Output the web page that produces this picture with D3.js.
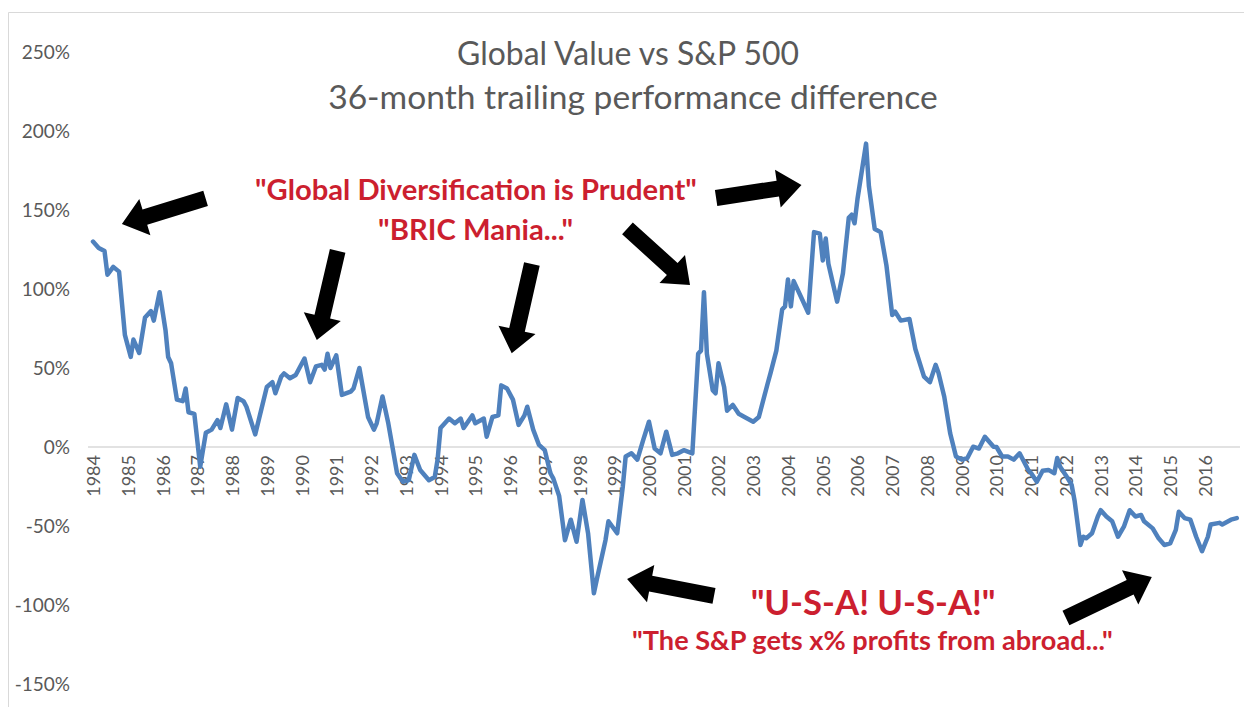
<!DOCTYPE html>
<html>
<head>
<meta charset="utf-8">
<script src="https://cdn.jsdelivr.net/npm/d3@7"></script>
<style>
  html, body { margin: 0; padding: 0; background: #fff; }
  svg { display: block; }
</style>
</head>
<body>
<script>
// ---------------- DATA ----------------
const titleLines = ["Global Value vs S&P 500", "36-month trailing performance difference"];
const yTicks = [-150, -100, -50, 0, 50, 100, 150, 200, 250];
const xTickYears = d3.range(1984, 2017);

const dates = [
  "1984-01","1984-03","1984-05","1984-06","1984-08","1984-10","1984-12",
  "1985-02","1985-03","1985-05","1985-07","1985-09","1985-10","1985-12",
  "1986-02","1986-03","1986-04","1986-06","1986-08","1986-09","1986-10","1986-12",
  "1987-02","1987-04","1987-06","1987-08","1987-09","1987-11",
  "1988-01","1988-03","1988-05","1988-06","1988-09",
  "1989-01","1989-03","1989-04","1989-06","1989-07","1989-09","1989-11",
  "1990-02","1990-04","1990-06","1990-08","1990-09","1990-10","1990-11",
  "1991-01","1991-03","1991-06","1991-07","1991-09","1991-12",
  "1992-02","1992-03","1992-05","1992-07","1992-10","1992-12",
  "1993-02","1993-04","1993-06","1993-09","1993-11","1993-12",
  "1994-01","1994-04","1994-06","1994-08","1994-09","1994-12",
  "1995-01","1995-04","1995-05","1995-07","1995-09","1995-10","1995-12",
  "1996-02","1996-04","1996-06","1996-07","1996-09","1996-11",
  "1997-01","1997-03","1997-04","1997-06","1997-08","1997-10","1997-12",
  "1998-02","1998-04","1998-06","1998-07","1998-10","1998-11",
  "1999-02","1999-04","1999-05","1999-07","1999-09","1999-11",
  "2000-01","2000-03","2000-05","2000-07","2000-09","2000-11",
  "2001-01","2001-04","2001-06","2001-07","2001-08","2001-09","2001-11","2001-12",
  "2002-01","2002-03","2002-04","2002-06","2002-08","2002-10",
  "2003-01","2003-03","2003-06","2003-07","2003-09","2003-11","2003-12",
  "2004-01","2004-02","2004-03","2004-06","2004-08","2004-10","2004-12",
  "2005-01","2005-02","2005-03","2005-06","2005-08","2005-10","2005-11","2005-12",
  "2006-01","2006-04","2006-05","2006-07","2006-09","2006-11",
  "2007-01","2007-02","2007-04","2007-07","2007-09","2007-12",
  "2008-02","2008-04","2008-05","2008-07","2008-09","2008-11",
  "2009-01","2009-03","2009-05","2009-07","2009-09","2009-12",
  "2010-01","2010-03","2010-05","2010-07","2010-09","2010-12",
  "2011-01","2011-03","2011-05","2011-07","2011-09","2011-10","2011-11",
  "2012-01","2012-03","2012-04","2012-06","2012-07","2012-08","2012-10","2012-12",
  "2013-01","2013-03","2013-05","2013-07","2013-09","2013-11",
  "2014-01","2014-03","2014-04","2014-07","2014-09","2014-11",
  "2015-01","2015-03","2015-04","2015-06","2015-08","2015-10","2015-12",
  "2016-02","2016-03","2016-06","2016-07","2016-10","2016-12"
];

const values = [
  130,126,124,109,114,111,71,
  57,68,59.5,82,86,80,98,
  74,57,53,30,29,37,22,21,
  -12.5,9,11,17,12,27,
  11,31,29,25.5,8,
  38,41,34,44.5,46.6,43.5,45.6,
  56,41,51,52,49,59,50,
  58,33,35,37,50,19,
  11,15,32,15,-16.6,-22,
  -21,-5,-14.6,-21,-19,-8,
  12,18,15,18,12,20,
  15,18,6.5,19,20,39,37,
  30,14,20,25.5,11,1.3,
  -2,-16.6,-20,-31,-59,-46,-60,
  -33.5,-54.6,-92.6,-84,-59,-47,
  -54.6,-25,-6,-4,-8,4.4,
  16,-1,-4,9.7,-5,-4,
  -2,-4,59,61,98,59,36,34,
  53,38,23,26.6,21,19,
  16,19,40,46.6,61,87,89,
  106,89,105,93,85,136,135,
  118,132,116,92,110,145,147,141.6,
  157,192,165,138,136,115,
  83.5,85.6,80,81,62,44.5,
  41,52,47,31.8,8.7,-6,
  -8,-7,0.2,-1,6.5,0.2,
  0,-6,-6,-8,-4,-14.6,
  -16.6,-22,-15,-14.5,-16.6,-7,-12.5,
  -18,-24,-34,-62,-56.8,-57.8,-54.6,-44,
  -40,-44,-47,-56.8,-50.4,-40,
  -44,-43,-47,-51.5,-57.8,-62,
  -61,-52.5,-41,-45,-46,-56.8,-66,
  -56.8,-49,-48,-49,-46,-45
];

// annotation texts (anchored in data space: decimal year, value %)
const noteTexts = [
  "\"Global Diversification is Prudent\"",
  "\"BRIC Mania...\"",
  "\"U-S-A! U-S-A!\"",
  "\"The S&P gets x% profits from abroad...\""
];
const noteAnchors = [[1995.02, 156.3], [1995.01, 131], [2006.45, -106.3], [2006.43, -128.5]];

// arrows: [tail, tip] in data space (decimal year, value %)
const arrowTails = [[1987.24, 157.3], [1991.04, 124.1], [1996.63, 115.8], [1999.38, 138.4], [2001.93, 157.6], [2001.87, -94.3], [2012.0, -108.2]];
const arrowTips  = [[1984.83, 141.1], [1990.44, 67.7], [1996.05, 59.3], [2001.18, 102.5], [2004.39, 165.8], [1999.37, -83.5], [2014.47, -82.3]];

// ---------------- CHART ----------------
const W = 1244, H = 707;
const FONT = "Lato, 'Open Sans', 'DejaVu Sans', sans-serif";
const GREY = "#595959";
const RED = "#cc1f2f";
const BLUE = "#4f81bd";

const svg = d3.select("body").append("svg")
  .attr("width", W).attr("height", H)
  .style("font-family", FONT);

svg.append("rect").attr("width", W).attr("height", H).attr("fill", "#fff");
// chart area border (only top & left visible in the crop)
svg.append("path").attr("d", "M8.5,707 L8.5,12.5 L1244,12.5")
  .attr("fill", "none").attr("stroke", "#d9d9d9").attr("stroke-width", 1);

const parse = d3.timeParse("%Y-%m");
const series = dates.map((d, i) => ({ date: parse(d), value: values[i] }));

const x = d3.scaleTime()
  .domain([new Date(1984, 0, 1), new Date(2017, 0, 1)])
  .range([93, 93 + 33 * 34.75]);
const y = d3.scaleLinear().domain([-150, 250]).range([684, 52]);

const decYear = t => {
  const yr = Math.floor(t);
  const start = new Date(yr, 0, 1), end = new Date(yr + 1, 0, 1);
  return new Date(+start + (t - yr) * (end - start));
};
const px = p => [x(decYear(p[0])), y(p[1])];

// zero gridline
svg.append("line")
  .attr("x1", 88).attr("x2", 1240)
  .attr("y1", y(0)).attr("y2", y(0))
  .attr("stroke", "#d9d9d9").attr("stroke-width", 1.3);

// Y axis labels
const yAxis = d3.axisLeft(y).tickValues(yTicks).tickSize(0).tickPadding(0)
  .tickFormat(d => d + "%");
const gy = svg.append("g").attr("transform", "translate(70,0)").call(yAxis);
gy.select(".domain").remove();
gy.selectAll("text").attr("fill", GREY).style("font-size", "19px").style("font-family", FONT);

// X axis labels (rotated)
const xAxis = d3.axisBottom(x)
  .tickValues(xTickYears.map(yy => new Date(yy, 0, 1)))
  .tickSize(0).tickFormat(d3.timeFormat("%Y"));
const gx = svg.append("g").attr("transform", `translate(0,${y(0)})`).call(xAxis);
gx.select(".domain").remove();
gx.selectAll("text")
  .attr("fill", GREY).style("font-size", "18px").style("font-family", FONT)
  .attr("transform", "rotate(-90)")
  .attr("text-anchor", "end")
  .attr("x", -8).attr("y", 0).attr("dy", "0.36em");

// Line
const line = d3.line().x(d => x(d.date)).y(d => y(d.value)).curve(d3.curveLinear);
svg.append("path").datum(series)
  .attr("d", line)
  .attr("fill", "none").attr("stroke", BLUE)
  .attr("stroke-width", 4.5).attr("stroke-linejoin", "round").attr("stroke-linecap", "round");

// Title
function fitText(sel, targetW) {
  const w = sel.node().getComputedTextLength();
  const fs = parseFloat(sel.style("font-size"));
  sel.style("font-size", (fs * targetW / w).toFixed(2) + "px");
}
const t1 = svg.append("text").attr("x", 628).attr("y", 65).attr("text-anchor", "middle")
  .attr("fill", GREY).style("font-size", "28px").text(titleLines[0]);
fitText(t1, 342);
const t2 = svg.append("text").attr("x", 633).attr("y", 109).attr("text-anchor", "middle")
  .attr("fill", GREY).style("font-size", "28px").text(titleLines[1]);
fitText(t2, 610);

// Annotation texts
const noteWidths = [442, 195, 245, 481];
const noteSizes = [25, 25, 30, 22];
noteTexts.forEach((txt, i) => {
  const [ax, ay] = px(noteAnchors[i]);
  const t = svg.append("text").attr("x", ax).attr("y", ay).attr("text-anchor", "middle")
    .attr("fill", RED).style("font-weight", "bold").style("font-size", noteSizes[i] + "px")
    .text(txt);
  fitText(t, noteWidths[i]);
});

// Arrows
function arrowPath(T, P, w, hw, hl) {
  const dx = P[0] - T[0], dy = P[1] - T[1];
  const L = Math.hypot(dx, dy);
  const u = [dx / L, dy / L], n = [-u[1], u[0]];
  const B = [P[0] - u[0] * hl, P[1] - u[1] * hl];
  const pt = (p, k) => [p[0] + n[0] * k, p[1] + n[1] * k];
  const pts = [pt(T, w / 2), pt(B, w / 2), pt(B, hw / 2), P, pt(B, -hw / 2), pt(B, -w / 2), pt(T, -w / 2)];
  return "M" + pts.map(p => p[0].toFixed(1) + "," + p[1].toFixed(1)).join("L") + "Z";
}
arrowTails.forEach((tl, i) => {
  svg.append("path")
    .attr("d", arrowPath(px(tl), px(arrowTips[i]), 16, 38, 24))
    .attr("fill", "#000");
});
</script>
</body>
</html>
